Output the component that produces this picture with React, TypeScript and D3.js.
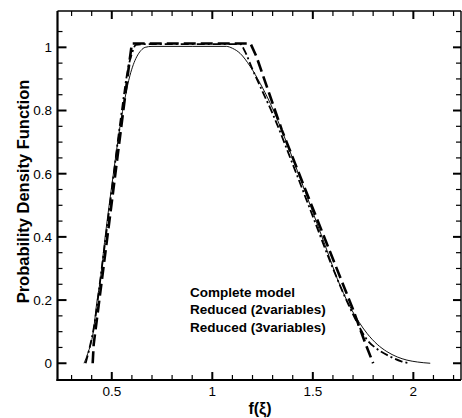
import React from 'react';
import * as d3 from 'd3';

// f(xi) / pdf samples
const completeX = [0.362, 0.38, 0.408, 0.425, 0.442, 0.467, 0.508, 0.541, 0.566, 0.59, 0.607, 0.624, 0.645, 0.666, 0.7, 0.9, 1.07, 1.1, 1.138, 1.188, 1.238, 1.288, 1.338, 1.4, 1.5, 1.57, 1.62, 1.685, 1.73, 1.769, 1.82, 1.868, 1.92, 1.968, 2.02, 2.084];
const completeY = [0.0, 0.03, 0.1, 0.19, 0.26, 0.4, 0.6, 0.75, 0.84, 0.91, 0.945, 0.97, 0.99, 1.0, 1.003, 1.003, 1.003, 0.997, 0.981, 0.94, 0.886, 0.823, 0.749, 0.648, 0.478, 0.358, 0.27, 0.179, 0.13, 0.095, 0.06, 0.037, 0.02, 0.01, 0.004, 0.0];

const red2X = [0.405, 0.41, 0.42, 0.5, 0.59, 0.6, 1.19, 1.22, 1.346, 1.5, 1.6, 1.7, 1.76, 1.8];
const red2Y = [0.0, 0.06, 0.11, 0.51, 0.965, 1.012, 1.012, 0.97, 0.738, 0.49, 0.33, 0.17, 0.065, 0.0];

const red3X = [0.37, 0.39, 0.41, 0.45, 0.5, 0.55, 0.58, 0.6, 0.62, 0.66, 0.9, 1.14, 1.16, 1.2, 1.25, 1.3, 1.4, 1.5, 1.6, 1.7, 1.77, 1.82, 1.885, 1.94, 1.98];
const red3Y = [0.0, 0.05, 0.11, 0.3, 0.55, 0.8, 0.93, 0.98, 1.008, 1.01, 1.01, 1.01, 0.99, 0.93, 0.86, 0.79, 0.63, 0.465, 0.3, 0.155, 0.074, 0.045, 0.021, 0.006, 0.0];

const xMajor = [0.5, 1, 1.5, 2];
const yMajor = [0, 0.2, 0.4, 0.6, 0.8, 1];
const legendLabels = ['Complete model', 'Reduced (2variables)', 'Reduced (3variables)'];

const W = 462;
const H = 418;
const left = 57.5, right = 461, top = 11, bottom = 380;
const font = '"Liberation Sans", Arial, Helvetica, sans-serif';

export default function App() {
  const x = d3.scaleLinear().domain([0.23, 2.237]).range([left, right]);
  const y = d3.scaleLinear().domain([-0.053, 1.115]).range([bottom, top]);

  const xMinor = d3.range(3, 23).map(d => d / 10).filter(d => !xMajor.some(m => Math.abs(m - d) < 1e-6));
  const yMinor = d3.range(0, 22).map(d => d * 0.05).filter(d => !yMajor.some(m => Math.abs(m - d) < 1e-6));

  const toPts = (xs: number[], ys: number[]) => xs.map((v, i) => [v, ys[i]] as [number, number]);
  const smooth = d3.line<[number, number]>().x(d => x(d[0])).y(d => y(d[1])).curve(d3.curveMonotoneX);
  const straight = d3.line<[number, number]>().x(d => x(d[0])).y(d => y(d[1]));

  return (
    <svg width={W} height={H} style={{ position: 'absolute', left: 0, top: 0 }} fontFamily={font}>
      <rect width={W} height={H} fill="#fff" />

      <path d={smooth(toPts(completeX, completeY)) || ''} fill="none" stroke="#111" strokeWidth={1} />
      <path d={straight(toPts(red2X, red2Y)) || ''} fill="none" stroke="#000" strokeWidth={2.6} strokeDasharray="12 5" />
      <path d={smooth(toPts(red3X, red3Y)) || ''} fill="none" stroke="#000" strokeWidth={1.8} strokeDasharray="8 3 2 3" />

      {/* frame */}
      <line x1={left} x2={right} y1={top} y2={top} stroke="#000" strokeWidth={1.6} />
      <line x1={right} x2={right} y1={top} y2={bottom} stroke="#000" strokeWidth={1.4} />
      <line x1={left} x2={left} y1={top} y2={bottom + 1} stroke="#000" strokeWidth={2.2} />
      <line x1={left - 1} x2={right} y1={bottom} y2={bottom} stroke="#000" strokeWidth={2.2} />

      {/* x ticks, bottom and top */}
      {xMajor.map(d => (
        <g key={'xM' + d}>
          <line x1={x(d)} x2={x(d)} y1={bottom} y2={bottom - 8} stroke="#000" strokeWidth={2} />
          <line x1={x(d)} x2={x(d)} y1={top} y2={top + 8} stroke="#000" strokeWidth={2} />
          <text x={x(d)} y={396} textAnchor="middle" fontSize={13.5}>{d}</text>
        </g>
      ))}
      {xMinor.map(d => (
        <g key={'xm' + d}>
          <line x1={x(d)} x2={x(d)} y1={bottom} y2={bottom - 5} stroke="#000" strokeWidth={1.2} />
          <line x1={x(d)} x2={x(d)} y1={top} y2={top + 5} stroke="#000" strokeWidth={1.2} />
        </g>
      ))}

      {/* y ticks, left and right */}
      {yMajor.map(d => (
        <g key={'yM' + d}>
          <line x1={left} x2={left + 9} y1={y(d)} y2={y(d)} stroke="#000" strokeWidth={2} />
          <line x1={right} x2={right - 8} y1={y(d)} y2={y(d)} stroke="#000" strokeWidth={2} />
          <text x={52} y={y(d) + 4.8} textAnchor="end" fontSize={13.5}>{d}</text>
        </g>
      ))}
      {yMinor.map(d => (
        <g key={'ym' + d}>
          <line x1={left} x2={left + 5} y1={y(d)} y2={y(d)} stroke="#000" strokeWidth={1.2} />
          <line x1={right} x2={right - 5} y1={y(d)} y2={y(d)} stroke="#000" strokeWidth={1.2} />
        </g>
      ))}

      <text x={260} y={414} textAnchor="middle" fontSize={16} fontWeight="bold">f(ξ)</text>
      <text transform="translate(29,191.5) rotate(-90)" textAnchor="middle" fontSize={16.5} fontWeight="bold">
        Probability Density Function
      </text>

      {legendLabels.map((t, i) => (
        <text key={t} x={190} y={297 + i * 17.3} fontSize={13.5} fontWeight="bold">{t}</text>
      ))}
    </svg>
  );
}
